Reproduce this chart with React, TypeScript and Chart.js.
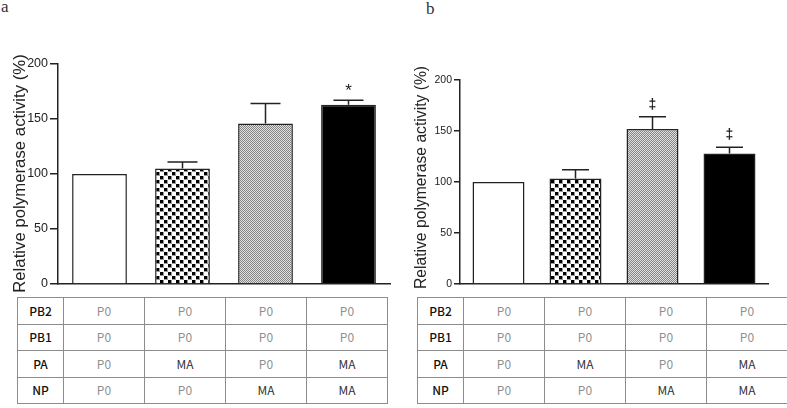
import React, { useEffect, useRef } from "react";
import { Chart, registerables } from "chart.js";

Chart.register(...registerables);

// ---- data ----
const categories = ["P0/P0/P0/P0", "P0/P0/MA/P0", "P0/P0/P0/MA", "P0/P0/MA/MA"];
const yTicks = [0, 50, 100, 150, 200];
const yTitle = "Relative polymerase activity (%)";

const valuesA = [100, 105, 146, 163];
const errorsA = [0, 6, 18, 4];
const marksA = ["", "", "", "*"];

const valuesB = [100, 103.5, 152, 128];
const errorsB = [0, 8.5, 12, 6];
const marksB = ["", "", "‡", "‡"];

const rowLabels = ["PB2", "PB1", "PA", "NP"];
const rowPB2 = ["P0", "P0", "P0", "P0"];
const rowPB1 = ["P0", "P0", "P0", "P0"];
const rowPA = ["P0", "MA", "P0", "MA"];
const rowNP = ["P0", "P0", "MA", "MA"];
const tableRows = [rowPB2, rowPB1, rowPA, rowNP];

const SANS = 'Arial, "Liberation Sans", sans-serif';

function makePattern(kind: "dots" | "fine"): CanvasPattern | string {
  const c = document.createElement("canvas");
  const ctx = c.getContext("2d")!;
  if (kind === "dots") {
    c.width = 8;
    c.height = 8;
    ctx.fillStyle = "#ffffff";
    ctx.fillRect(0, 0, 8, 8);
    ctx.fillStyle = "#999999";
    ctx.fillRect(0, 0, 4, 4);
    ctx.fillRect(4, 4, 4, 4);
    ctx.fillStyle = "#000000";
    ctx.fillRect(0, 0, 3, 3);
    ctx.fillRect(4, 4, 3, 3);
  } else {
    c.width = 2;
    c.height = 2;
    ctx.fillStyle = "#e0e0e0";
    ctx.fillRect(0, 0, 2, 2);
    ctx.fillStyle = "#858585";
    ctx.fillRect(0, 0, 1, 1);
    ctx.fillRect(1, 1, 1, 1);
  }
  return ctx.createPattern(c, "repeat") || "#999";
}

type PanelProps = {
  values: number[];
  errors: number[];
  marks: string[];
  left: number;
  width: number;
  height: number;
  padTop: number;
  padRight: number;
  padBottom: number;
  axisWidth: number;
  tickLen: number;
  tickFont: number;
  titleFont: number;
  titleX: number;
  titleY: number;
  barPct: number;
  capW: number;
  markFont: number;
  markWeight: string;
  markLift: number;
};

function Panel(p: PanelProps) {
  const ref = useRef<HTMLCanvasElement>(null);
  useEffect(() => {
    const canvas = ref.current!;
    const fills = ["#ffffff", makePattern("dots"), makePattern("fine"), "#000000"];
    const errorPlugin = {
      id: "errbars",
      afterDatasetsDraw(chart: any) {
        const ctx = chart.ctx as CanvasRenderingContext2D;
        const meta = chart.getDatasetMeta(0);
        const ys = chart.scales.y;
        ctx.save();
        ctx.strokeStyle = "#222";
        ctx.lineWidth = 1.5;
        meta.data.forEach((bar: any, i: number) => {
          const v = p.values[i];
          const e = p.errors[i];
          const yBar = ys.getPixelForValue(v);
          const yTop = ys.getPixelForValue(v + e);
          if (e > 0) {
            ctx.beginPath();
            ctx.moveTo(bar.x, yBar);
            ctx.lineTo(bar.x, yTop);
            ctx.moveTo(bar.x - p.capW / 2, yTop);
            ctx.lineTo(bar.x + p.capW / 2, yTop);
            ctx.stroke();
          }
          if (p.marks[i]) {
            ctx.fillStyle = "#222";
            ctx.font = `${p.markWeight} ${p.markFont}px ${SANS}`;
            ctx.textAlign = "center";
            ctx.textBaseline = "alphabetic";
            ctx.fillText(p.marks[i], bar.x, yTop - p.markLift);
          }
        });
        // y-axis title (drawn freely so it can extend beyond the plot height)
        ctx.translate(p.titleX, p.titleY);
        ctx.rotate(-Math.PI / 2);
        ctx.fillStyle = "#222";
        ctx.font = `${p.titleFont}px ${SANS}`;
        ctx.textAlign = "center";
        ctx.textBaseline = "middle";
        ctx.fillText(yTitle, 0, 0);
        ctx.restore();
      },
    };
    const chart = new Chart(canvas, {
      type: "bar",
      data: {
        labels: categories,
        datasets: [
          {
            data: p.values,
            backgroundColor: fills as any,
            borderColor: "#222",
            borderWidth: 1.5,
            barPercentage: p.barPct,
            categoryPercentage: 1,
          },
        ],
      },
      options: {
        animation: false,
        responsive: false,
        maintainAspectRatio: false,
        layout: { padding: { top: p.padTop, right: p.padRight, bottom: p.padBottom, left: 0 } },
        plugins: { legend: { display: false }, tooltip: { enabled: false } },
        scales: {
          x: {
            grid: { display: false, drawTicks: false },
            border: { display: true, color: "#222", width: 1.5 },
            ticks: { display: false },
            afterFit: (s: any) => {
              s.height = 0;
            },
          },
          y: {
            min: 0,
            max: 200,
            afterBuildTicks: (s: any) => {
              s.ticks = yTicks.map((v) => ({ value: v }));
            },
            grid: { drawOnChartArea: false, tickLength: p.tickLen, color: "#222", lineWidth: 1.5 },
            border: { display: true, color: "#222", width: 1.5 },
            ticks: {
              padding: 2,
              color: "#222",
              font: { size: p.tickFont, family: SANS },
            },
            title: { display: false, text: yTitle },
            afterFit: (s: any) => {
              s.width = p.axisWidth;
            },
          },
        },
      },
      plugins: [errorPlugin],
    });
    return () => chart.destroy();
  }, []);
  return (
    <canvas
      ref={ref}
      width={p.width}
      height={p.height}
      style={{ position: "absolute", left: p.left, top: 0, width: p.width, height: p.height }}
    />
  );
}

function Table({ left }: { left: number }) {
  const cellBorder = "1px solid #8c8c8c";
  return (
    <table
      style={{
        position: "absolute",
        left,
        top: 297,
        width: 370,
        borderCollapse: "collapse",
        tableLayout: "fixed",
        fontFamily: '"Noto Sans CJK KR", "Noto Sans", Arial, sans-serif',
        fontSize: 12,
      }}
    >
      <colgroup>
        <col style={{ width: 46 }} />
        <col style={{ width: 81 }} />
        <col style={{ width: 81 }} />
        <col style={{ width: 81 }} />
        <col style={{ width: 81 }} />
      </colgroup>
      <tbody>
        {rowLabels.map((lab, r) => (
          <tr key={lab} style={{ height: 26.5 }}>
            <td style={{ border: cellBorder, textAlign: "center", color: "#111", padding: 0, lineHeight: "12px", fontWeight: 500 }}>
              {lab}
            </td>
            {tableRows[r].map((v, c) => (
              <td
                key={c}
                style={{
                  border: cellBorder,
                  textAlign: "center",
                  padding: 0,
                  lineHeight: "12px",
                  color: v === "MA" ? "#333" : "#8f8f8f",
                }}
              >
                {v}
              </td>
            ))}
          </tr>
        ))}
      </tbody>
    </table>
  );
}

export default function App() {
  return (
    <div
      style={{
        position: "absolute",
        left: 0,
        top: 0,
        width: 787,
        height: 408,
        background: "#fff",
        overflow: "hidden",
      }}
    >
      <div style={{ position: "absolute", left: 1, top: -2, fontFamily: '"Liberation Serif", serif', fontSize: 17, lineHeight: "17px", color: "#333" }}>
        a
      </div>
      <div style={{ position: "absolute", left: 426, top: 0, fontFamily: '"Liberation Serif", serif', fontSize: 17, lineHeight: "17px", color: "#333" }}>
        b
      </div>
      <Panel
        values={valuesA}
        errors={errorsA}
        marks={marksA}
        left={0}
        width={395}
        height={296}
        padTop={64}
        padRight={5}
        padBottom={12}
        axisWidth={58}
        tickLen={8}
        tickFont={12.5}
        titleFont={16.8}
        titleX={20}
        titleY={173.5}
        barPct={0.66}
        capW={30}
        markFont={17}
        markWeight="normal"
        markLift={4}
      />
      <Panel
        values={valuesB}
        errors={errorsB}
        marks={marksB}
        left={395}
        width={392}
        height={296}
        padTop={80}
        padRight={19}
        padBottom={12}
        axisWidth={65}
        tickLen={6}
        tickFont={10.5}
        titleFont={15.7}
        titleX={27}
        titleY={177.5}
        barPct={0.675}
        capW={27}
        markFont={14}
        markWeight="bold"
        markLift={8}
      />
      <Table left={17} />
      <Table left={417} />
    </div>
  );
}
